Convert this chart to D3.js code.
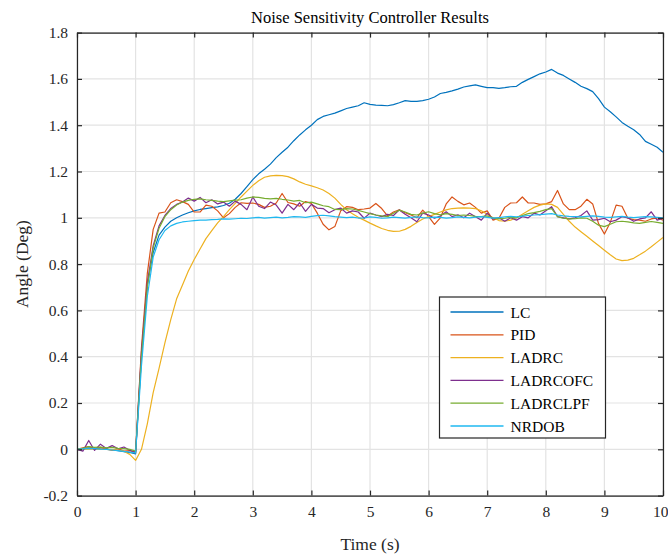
<!DOCTYPE html>
<html><head><meta charset="utf-8">
<script src="https://cdn.jsdelivr.net/npm/d3@7"></script>
<style>body{margin:0;background:#fff}svg{display:block}</style>
</head><body>
<svg id="chart" width="668" height="554"></svg>
<script>
const time = [0,0.1,0.2,0.3,0.4,0.5,0.6,0.7,0.8,0.9,1,1.1,1.2,1.3,1.4,1.5,1.6,1.7,1.8,1.9,2,2.1,2.2,2.3,2.4,2.5,2.6,2.7,2.8,2.9,3,3.1,3.2,3.3,3.4,3.5,3.6,3.7,3.8,3.9,4,4.1,4.2,4.3,4.4,4.5,4.6,4.7,4.8,4.9,5,5.1,5.2,5.3,5.4,5.5,5.6,5.7,5.8,5.9,6,6.1,6.2,6.3,6.4,6.5,6.6,6.7,6.8,6.9,7,7.1,7.2,7.3,7.4,7.5,7.6,7.7,7.8,7.9,8,8.1,8.2,8.3,8.4,8.5,8.6,8.7,8.8,8.9,9,9.1,9.2,9.3,9.4,9.5,9.6,9.7,9.8,9.9,10];

const LC = [0.000,0.003,0.006,0.004,0.002,0.001,-0.003,-0.006,-0.010,-0.014,-0.020,
0.40,0.71,0.85,0.925,0.96,0.985,1.000,1.012,1.022,1.030,
1.036,1.040,1.044,1.047,1.053,1.063,1.080,1.105,1.135,1.165,
1.190,1.210,1.232,1.260,1.283,1.305,1.333,1.358,1.380,1.400,
1.424,1.438,1.445,1.452,1.462,1.472,1.478,1.484,1.497,1.490,
1.487,1.486,1.484,1.489,1.497,1.506,1.503,1.503,1.506,1.512,
1.522,1.537,1.542,1.548,1.556,1.565,1.570,1.574,1.568,1.562,
1.562,1.559,1.562,1.566,1.568,1.585,1.598,1.610,1.622,1.630,
1.641,1.625,1.615,1.600,1.585,1.568,1.558,1.545,1.515,1.478,
1.458,1.436,1.412,1.395,1.380,1.360,1.330,1.318,1.305,1.283];

const PID = [0.000,0.006,0.012,0.002,0.008,0.001,-0.004,0.003,-0.008,-0.006,-0.015,
0.44,0.76,0.95,1.02,1.025,1.065,1.078,1.07,1.058,1.025,
1.025,1.055,1.05,1.03,1.0,1.018,1.045,1.065,1.062,1.064,
1.058,1.045,1.05,1.064,1.105,1.066,1.06,1.05,1.07,1.062,
1.02,0.972,0.948,0.962,1.03,1.048,1.045,1.035,1.038,1.042,
1.062,1.04,1.008,1.025,1.035,1.022,1.012,1.0,1.033,1.005,
0.972,1.0,1.06,1.09,1.071,1.056,1.064,1.045,1.02,1.03,
0.99,0.998,1.045,1.064,1.065,1.09,1.064,1.064,1.058,1.06,
1.07,1.118,1.06,1.035,1.035,1.05,1.08,1.06,0.975,0.93,
0.98,1.055,1.05,0.998,0.992,0.99,0.985,0.995,1.0,0.99];

const LADRC = [0.0,0.0,0.001,0.001,0.0,0.0,-0.001,-0.003,-0.008,-0.022,-0.048,
0.0,0.11,0.245,0.35,0.46,0.56,0.65,0.71,0.77,0.82,
0.865,0.91,0.945,0.978,1.005,1.035,1.062,1.09,1.115,1.14,
1.16,1.175,1.181,1.183,1.182,1.178,1.168,1.155,1.145,1.138,
1.13,1.12,1.105,1.085,1.058,1.035,1.018,1.002,0.99,0.977,
0.965,0.954,0.946,0.941,0.942,0.95,0.963,0.98,0.995,1.005,
1.015,1.025,1.034,1.04,1.042,1.043,1.042,1.04,1.03,1.015,
1.0,0.988,0.985,0.99,1.0,1.015,1.03,1.045,1.055,1.06,
1.058,1.045,1.015,0.985,0.96,0.94,0.92,0.9,0.88,0.86,
0.84,0.822,0.815,0.817,0.825,0.84,0.856,0.875,0.895,0.915];

const LADRCOFC = [0.000,-0.008,0.038,-0.005,0.022,0.004,0.016,0.002,0.010,-0.004,-0.012,
0.42,0.72,0.88,0.965,1.01,1.04,1.058,1.068,1.085,1.072,
1.088,1.065,1.078,1.06,1.068,1.05,1.072,1.058,1.035,1.09,
1.05,1.04,1.068,1.055,1.02,1.058,1.035,1.065,1.028,1.058,
1.042,1.04,1.022,1.035,1.042,1.02,1.03,1.025,0.998,1.02,
1.012,1.005,1.015,1.01,1.034,1.015,1.0,0.983,1.02,1.012,
0.998,1.008,1.026,1.005,1.013,1.0,1.02,1.005,0.99,1.02,
0.995,1.0,0.985,1.0,0.99,1.005,1.0,1.02,1.012,1.03,
1.048,1.005,1.0,0.995,1.0,1.01,1.03,0.99,0.992,0.998,
0.983,0.99,1.005,1.0,0.985,0.995,1.0,1.026,0.99,0.998];

const LADRCLPF = [0.000,0.004,0.012,0.008,0.010,0.006,0.008,0.004,0.003,0.000,-0.008,
0.40,0.70,0.87,0.955,1.005,1.035,1.055,1.068,1.075,1.08,
1.082,1.078,1.075,1.072,1.07,1.073,1.076,1.078,1.085,1.09,
1.088,1.084,1.082,1.084,1.08,1.077,1.072,1.075,1.065,1.068,
1.06,1.052,1.048,1.036,1.035,1.04,1.038,1.032,1.025,1.018,
1.012,1.008,1.005,1.02,1.033,1.025,1.015,1.012,1.02,1.026,
1.018,1.013,1.018,1.015,1.01,1.012,1.01,1.006,1.005,1.008,
1.0,0.995,0.998,1.002,1.0,1.01,1.018,1.022,1.028,1.035,
1.04,1.005,0.998,0.995,0.996,1.0,0.998,0.985,0.968,0.962,
0.972,0.983,0.985,0.982,0.978,0.976,0.98,0.984,0.98,0.976];

const NRDOB = [0.000,0.002,0.004,0.003,0.001,0.000,-0.003,-0.006,-0.009,-0.012,-0.016,
0.36,0.66,0.83,0.905,0.945,0.965,0.976,0.982,0.985,0.988,
0.99,0.99,0.992,0.993,0.995,0.994,0.996,0.998,0.997,1.0,
1.002,0.999,1.001,1.003,1.0,1.002,1.005,1.004,1.002,1.006,
1.009,1.011,1.008,1.005,1.003,1.001,1.003,0.999,1.0,1.004,
1.002,0.998,1.0,1.003,1.001,0.999,1.002,1.004,1.001,1.0,
1.003,1.002,0.999,1.001,1.004,1.002,1.0,1.003,1.005,1.002,
0.999,1.001,1.004,1.006,1.004,1.007,1.01,1.012,1.014,1.016,
1.018,1.012,1.008,1.006,1.005,1.004,1.006,1.008,1.006,1.003,
1.002,1.004,1.006,1.003,1.001,1.003,1.005,1.004,1.002,1.0];

const seriesNames = ["LC","PID","LADRC","LADRCOFC","LADRCLPF","NRDOB"];
const seriesValues = [LC, PID, LADRC, LADRCOFC, LADRCLPF, NRDOB];
const seriesColors = ["#0072BD","#D95319","#EDB120","#7E2F8E","#77AC30","#1FB8F0"];
const xTicks = [0,1,2,3,4,5,6,7,8,9,10];
const yTicks = [-0.2,0,0.2,0.4,0.6,0.8,1,1.2,1.4,1.6,1.8];
const titleText = "Noise Sensitivity Controller Results";
const xLabel = "Time (s)";
const yLabel = "Angle (Deg)";

const svg = d3.select("#chart");
const L = 77, R = 663, T = 32.6, B = 495.6;
const x = d3.scaleLinear().domain([0,10]).range([L,R]);
const y = d3.scaleLinear().domain([-0.2,1.8]).range([B,T]);
const font = "'Liberation Serif','Times New Roman',serif";
const axisCol = "#262626";

// grid
const g = svg.append("g");
g.selectAll("line.gx").data(xTicks).join("line")
  .attr("x1",d=>x(d)).attr("x2",d=>x(d)).attr("y1",T).attr("y2",B)
  .attr("stroke","#e3e3e3").attr("stroke-width",1.2);
g.selectAll("line.gy").data(yTicks).join("line")
  .attr("y1",d=>y(d)).attr("y2",d=>y(d)).attr("x1",L).attr("x2",R)
  .attr("stroke","#e3e3e3").attr("stroke-width",1.2);

// lines
svg.append("clipPath").attr("id","clip").append("rect")
  .attr("x",L).attr("y",T).attr("width",R-L).attr("height",B-T);
const line = d3.line().x((d,i)=>x(time[i])).y(d=>y(d));
const lg = svg.append("g").attr("clip-path","url(#clip)");
seriesValues.forEach((vals,k)=>{
  lg.append("path").datum(vals).attr("d",line)
    .attr("fill","none").attr("stroke",seriesColors[k]).attr("stroke-width",1.2)
    .attr("stroke-linejoin","round");
});

// axes (box with inward ticks)
const axBottom = d3.axisBottom(x).tickValues(xTicks).tickSizeInner(-5).tickSizeOuter(0).tickPadding(10).tickFormat(d3.format("d"));
const axLeft = d3.axisLeft(y).tickValues(yTicks).tickSizeInner(-5).tickSizeOuter(0).tickPadding(9).tickFormat(d=>String(+d.toFixed(1)));
const axTop = d3.axisTop(x).tickValues(xTicks).tickSizeInner(-5).tickSizeOuter(0).tickFormat("");
const axRight = d3.axisRight(y).tickValues(yTicks).tickSizeInner(-5).tickSizeOuter(0).tickFormat("");

function styleAxis(sel){
  sel.select(".domain").attr("stroke",axisCol).attr("stroke-width",1.2);
  sel.selectAll(".tick line").attr("stroke",axisCol).attr("stroke-width",1.2);
  sel.selectAll(".tick text").attr("fill",axisCol).style("font-family",font).style("font-size","15.5px");
}
const gB = svg.append("g").attr("transform",`translate(0,${B})`).call(axBottom);
styleAxis(gB);
// keep the last label inside the canvas
gB.selectAll(".tick text").filter(d=>d===10).attr("text-anchor","end").attr("x",5);
styleAxis(svg.append("g").attr("transform",`translate(${L},0)`).call(axLeft));
styleAxis(svg.append("g").attr("transform",`translate(0,${T})`).call(axTop));
styleAxis(svg.append("g").attr("transform",`translate(${R},0)`).call(axRight));

// title and labels
svg.append("text").attr("x",(L+R)/2).attr("y",23).attr("text-anchor","middle")
  .style("font-family",font).style("font-size","16.5px").attr("fill","#000").text(titleText);
svg.append("text").attr("x",(L+R)/2).attr("y",550).attr("text-anchor","middle")
  .style("font-family",font).style("font-size","17.5px").attr("fill",axisCol).text(xLabel);
svg.append("text").attr("transform",`translate(28,${(T+B)/2}) rotate(-90)`).attr("text-anchor","middle")
  .style("font-family",font).style("font-size","17.5px").attr("fill",axisCol).text(yLabel);

// legend
const lgX = 439.5, lgY = 297, lgW = 166, lgH = 141;
const leg = svg.append("g");
leg.append("rect").attr("x",lgX).attr("y",lgY).attr("width",lgW).attr("height",lgH)
  .attr("fill","#fff").attr("stroke",axisCol).attr("stroke-width",1.2);
seriesNames.forEach((n,k)=>{
  const yy = lgY + 15 + k*22.8;
  leg.append("line").attr("x1",lgX+11).attr("x2",lgX+64).attr("y1",yy).attr("y2",yy)
    .attr("stroke",seriesColors[k]).attr("stroke-width",1.3);
  leg.append("text").attr("x",lgX+71).attr("y",yy+5.5)
    .style("font-family",font).style("font-size","15.5px").attr("fill","#000").text(n);
});
</script>
</body></html>
